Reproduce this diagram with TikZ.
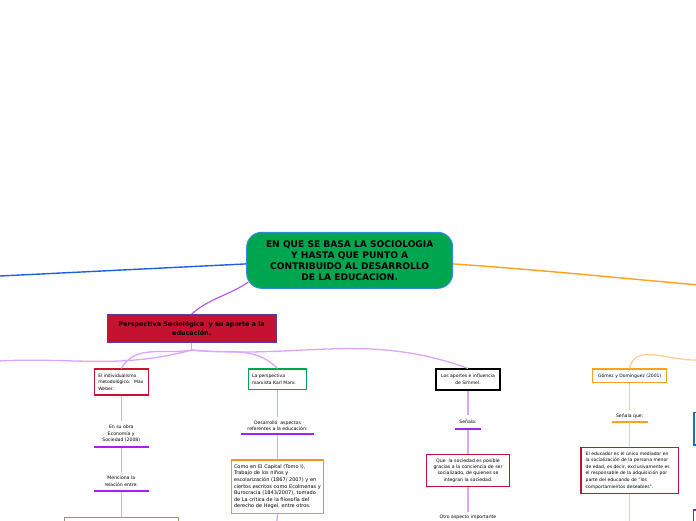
\documentclass[tikz,border=0pt]{standalone}
\usepackage{fontspec}
\setmainfont{DejaVu Sans}
\usepackage{tikz}
\usetikzlibrary{positioning}
\usepackage{xcolor}
\definecolor{MapGreen}{RGB}{0,165,80}
\definecolor{CentralBlue}{RGB}{50,140,220}
\definecolor{MainBlue}{RGB}{30,95,230}
\definecolor{MainOrange}{RGB}{255,160,30}
\definecolor{LightOrange}{RGB}{255,208,140}
\definecolor{MainPurple}{RGB}{175,80,250}
\definecolor{LightPurple}{RGB}{220,165,255}
\definecolor{BarPurple}{RGB}{165,35,240}
\definecolor{MapRed}{RGB}{196,18,48}
\definecolor{PerspPurple}{RGB}{90,60,160}
\definecolor{BoxOrange}{RGB}{247,148,29}
\definecolor{MapTan}{RGB}{168,144,104}
\definecolor{EdgeBlue}{RGB}{30,110,180}
\definecolor{EdgePurple}{RGB}{112,48,160}

\begin{document}
\begin{tikzpicture}[
x=1pt,y=1pt,
node distance=25pt,
central/.style={
rectangle,rounded corners=15pt,draw=CentralBlue,line width=1pt,fill=MapGreen,
minimum width=206pt,minimum height=56pt,
align=center,font=\fontsize{9.1}{11}\selectfont\bfseries
},
persp/.style={
rectangle,draw=PerspPurple,line width=0.9pt,fill=MapRed,
minimum width=168.7pt,minimum height=28pt,
align=center,font=\fontsize{6.4}{9}\selectfont\bfseries
},
box/.style={
rectangle,fill=white,line width=1.2pt,inner xsep=4pt,inner ysep=1pt,
font=\fontsize{4.5}{6.6}\selectfont
},
subtitle/.style={
rectangle,inner xsep=2pt,inner ysep=0pt,
align=center,font=\fontsize{4.6}{6.6}\selectfont
},
bar/.style={line width=2pt,draw=BarPurple},
orangebar/.style={line width=2pt,draw=MainOrange},
branch/.style={line width=1.3pt,draw=LightPurple},
orangebranch/.style={line width=1.3pt,draw=LightOrange}
]

\useasboundingbox (0,0) rectangle (696,520);
\clip (0,0) rectangle (696,520);

\node[central] (central) at (349.7,259.7) {EN QUE SE BASA LA SOCIOLOGIA\\Y HASTA QUE PUNTO A\\CONTRIBUIDO AL DESARROLLO\\DE LA EDUCACION.};

\node[persp] (persp) at (191.7,191.7) {Perspectiva Sociológica~ y su aporte a la\\educación.};

\node[box,draw=MapRed,minimum width=54pt,minimum height=26pt,text width=46pt,align=left] (weber) at (121.3,138) {El individualismo\\metodológico:~ Max\\Weber.};

\node[subtitle,minimum width=54.7pt,minimum height=25pt,below=25.5pt of weber] (obra) {En su obra\\Economía y\\Sociedad (2008)};

\node[subtitle,minimum width=54.7pt,minimum height=19.4pt,below=25pt of obra] (relacion) {Menciona la\\relación entre:};

\node[box,draw=MapTan,minimum width=114pt,minimum height=40pt,below=25.3pt of relacion] (entre) {};

\node[box,draw=MapGreen,minimum width=58.4pt,minimum height=20.3pt,text width=51pt,inner xsep=3.7pt,align=left] (marx) at (277.5,140.8) {La perspectiva\\marxista Karl Marx:};

\node[subtitle,minimum width=72.3pt,minimum height=17.2pt,below=26.8pt of marx] (aspectos) {Desarrolló~ aspectos\\referentes a la educación:};

\node[box,draw=BoxOrange,minimum width=91.7pt,minimum height=53.4pt,text width=87pt,inner xsep=2.35pt,align=left,font=\fontsize{5}{6.6}\selectfont,below=25pt of aspectos] (capital) {Como en El Capital (Tomo I),\\Trabajo de los niños y\\escolarización (1867/ 2007) y en\\ciertos escritos como Ecolmenas y\\Burocracia (1843/2007), tomado\\de La crítica de la filosofía del\\derecho de Hegel, entre otros.};

\node[box,draw=black,minimum width=64pt,minimum height=21pt,align=center] (simmel) at (468,140.5) {Los aportes e influencia\\de Simmel.};

\node[subtitle,minimum width=26pt,minimum height=13.4pt,below=24.3pt of simmel] (senala) {Señala:};

\node[box,draw=MapRed,minimum width=83.3pt,minimum height=32.3pt,align=center,font=\fontsize{4.65}{6.4}\selectfont,below=25pt of senala] (sociedad) {Que~ la sociedad es posible\\gracias a la conciencia de ser\\socializado, de quienes se\\integran la sociedad.};

\node[subtitle,minimum height=11pt,below=24.5pt of sociedad] (otro) {Otro aspecto importante};

\node[box,draw=MainOrange,minimum width=74pt,minimum height=13.3pt] (gomez) at (629.7,144.3) {Gómez y Domínguez (2001)};

\node[subtitle,minimum width=36pt,minimum height=12pt,below=26.7pt of gomez] (senalaque) {Señala que:};

\node[box,draw=MapRed,minimum width=97.3pt,minimum height=46pt,text width=88pt,inner xsep=4.65pt,align=left,below=24.7pt of senalaque] (educador) {El educador es el único mediador en\\la socialización de la persona menor\\de edad, es decir, exclusivamente es\\el responsable de la adquisición por\\parte del educando de "los\\comportamientos deseables".};

\node[box,draw=EdgeBlue,minimum width=40pt,minimum height=32.3pt,anchor=west] (derecha) at (693.3,91.2) {};

\node[box,draw=EdgePurple,minimum width=40pt,minimum height=30pt,anchor=north west] (abajo) at (692.7,10.7) {};

\coordinate (izq) at (-2,243.9);
\coordinate (der) at (698,235.1);
\coordinate (pfork) at (191.7,170);
\coordinate (pleft) at (-2,159);
\coordinate (oright) at (698,160.2);
\coordinate (capend) at (276.8,-2);
\coordinate (educend) at (629.7,-2);

\draw[line width=1.4pt,draw=MainBlue] (central.182) -- (izq);
\draw[line width=1.4pt,draw=MainOrange] (central.-2) to[out=-4,in=175] (der);
\draw[line width=1.1pt,draw=MainPurple] ([xshift=2pt]central.-168) to[out=-147,in=40] (persp.north);

\draw[branch] (persp.south) -- (pfork);
\draw[branch] (pfork) to[out=195,in=3] (pleft);
\draw[branch] (pfork) to[out=190,in=60] (weber.north);
\draw[branch] (pfork) to[out=-8,in=135] (marx.north);
\draw[branch] (pfork) to[out=-5,in=160] (simmel.north);

\draw[branch] (weber) -- (obra);
\draw[branch] (obra) -- (relacion);
\draw[branch] (relacion) -- (entre);
\draw[bar] (obra.south west) -- (obra.south east);
\draw[bar] (relacion.south west) -- (relacion.south east);

\draw[branch] (marx) -- (aspectos);
\draw[branch] (aspectos) -- (capital);
\draw[branch] (capital.south) -- (capend);
\draw[bar] (aspectos.south west) -- (aspectos.south east);

\draw[branch] (simmel) -- (senala);
\draw[branch] (senala) -- (sociedad);
\draw[branch] (sociedad) -- (otro);
\draw[bar] (senala.south west) -- (senala.south east);

\draw[orangebranch] (gomez.north) to[out=80,in=185] (oright);
\draw[orangebranch] (gomez) -- (senalaque);
\draw[orangebranch] (senalaque) -- (educador);
\draw[orangebranch] (educador.south) -- (educend);
\draw[orangebar] (senalaque.south west) -- (senalaque.south east);

\end{tikzpicture}
\end{document}
